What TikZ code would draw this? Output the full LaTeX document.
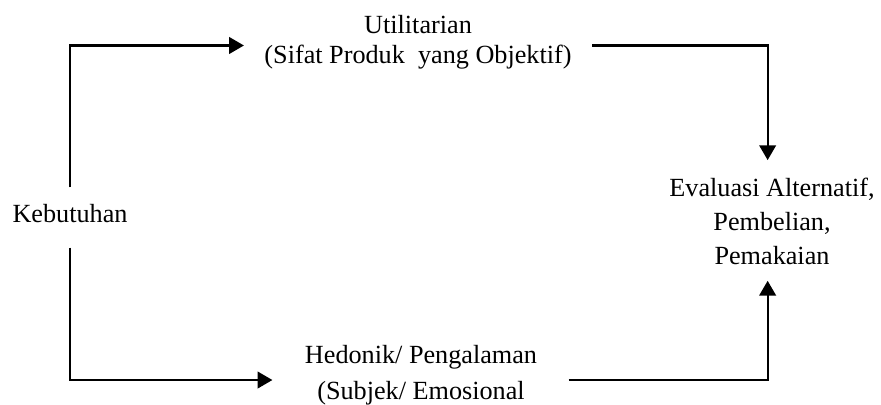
\documentclass[tikz,border=0pt]{standalone}
\usepackage{fontspec}
\setmainfont{Liberation Serif}
\usetikzlibrary{arrows.meta}

\begin{document}
\begin{tikzpicture}[
    x=0.458pt, y=-0.458pt,
    >={Triangle[length=6.8pt, width=7.6pt]},
    every node/.style={font=\fontsize{12}{14}\selectfont, inner sep=0pt, align=center},
    flow/.style={->, line width=1.05pt},
  ]
  \useasboundingbox (0,0) rectangle (881,405);

  % texts
  \node (keb) at (70,214) {Kebutuhan};
  \node[font=\fontsize{12}{13.8}\selectfont] (util) at (418,42)
    {Utilitarian\\(Sifat Produk\ \ yang Objektif)};
  \node[font=\fontsize{12}{15.6}\selectfont] (eval) at (772,221)
    {Evaluasi Alternatif,\\Pembelian,\\Pemakaian};
  \node[font=\fontsize{12}{16.3}\selectfont] (hed) at (421,375)
    {Hedonik/ Pengalaman\\(Subjek/ Emosional};

  % upper route
  \draw[flow, shorten <=7.8pt, shorten >=9.2pt] (keb.north) |- ([yshift=-1.6pt]util.west);
  \draw[flow, shorten <=9.2pt, shorten >=7.8pt] ([yshift=-1.6pt]util.east) -| ([xshift=-2pt]eval.north);

  % lower route
  \draw[flow, shorten <=11pt, shorten >=14.7pt] (keb.south) |- ([yshift=-2.3pt]hed.west);
  \draw[flow, shorten <=14.2pt, shorten >=7.3pt] ([yshift=-2.3pt]hed.east) -| ([xshift=-2pt]eval.south);
\end{tikzpicture}
\end{document}
